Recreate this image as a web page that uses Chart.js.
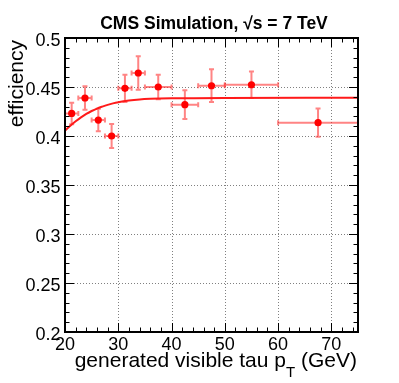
<!DOCTYPE html>
<html>
<head>
<meta charset="utf-8">
<script src="https://cdn.jsdelivr.net/npm/chart.js@4.4.1/dist/chart.umd.min.js"></script>
<style>
  body { margin: 0; background: #fff; }
  canvas { display: block; }
</style>
</head>
<body>
<canvas id="effChart" width="399" height="383"></canvas>
<script>
// measured efficiency per pT bin
const binCenter = [21.25, 23.75, 26.25, 28.75, 31.25, 33.75, 37.5, 42.5, 47.5, 55, 67.5];
const binLow = [20, 22.5, 25, 27.5, 30, 32.5, 35, 40, 45, 50, 60];
const binHigh = [22.5, 25, 27.5, 30, 32.5, 35, 40, 45, 50, 60, 75];
const efficiency = [0.423, 0.4388, 0.4163, 0.400, 0.4486, 0.4643, 0.450, 0.432, 0.4513, 0.4523, 0.4136];
const effError = [0.011, 0.012, 0.0115, 0.0123, 0.014, 0.017, 0.0125, 0.0146, 0.0167, 0.0134, 0.0144];

// fit curve
const fitPt = [20, 21, 22, 23, 24, 25, 26, 27, 28, 29, 30, 32, 34, 36, 40, 50, 75];
const fitEff = [0.4055, 0.4105, 0.415, 0.419, 0.4225, 0.4255, 0.428, 0.430, 0.4318, 0.4333, 0.4345, 0.4362, 0.4373, 0.4379, 0.4385, 0.4389, 0.439];

const xTicks = [20, 30, 40, 50, 60, 70];
const yTicks = [0.2, 0.25, 0.3, 0.35, 0.4, 0.45, 0.5];
const yTickLabels = ['0.2', '0.25', '0.3', '0.35', '0.4', '0.45', '0.5'];

const ctxEl = document.getElementById('effChart');

// grid + error bars below the markers
const backgroundPlugin = {
    id: 'background',
    beforeDatasetsDraw(chart) {
        const {ctx, chartArea: a, scales: {x, y}} = chart;
        ctx.save();
        ctx.strokeStyle = '#808080';
        ctx.lineWidth = 1;
        ctx.setLineDash([1, 2]);
        xTicks.forEach(v => {
            const px = Math.round(x.getPixelForValue(v)) + 0.5;
            ctx.beginPath(); ctx.moveTo(px, a.top); ctx.lineTo(px, a.bottom); ctx.stroke();
        });
        yTicks.forEach(v => {
            const py = Math.round(y.getPixelForValue(v)) + 0.5;
            ctx.beginPath(); ctx.moveTo(a.left, py); ctx.lineTo(a.right, py); ctx.stroke();
        });
        ctx.setLineDash([]);

        // error bars
        ctx.strokeStyle = 'rgba(255, 50, 50, 0.6)';
        ctx.lineWidth = 2;
        binCenter.forEach((c, i) => {
            const px = x.getPixelForValue(c);
            const py = y.getPixelForValue(efficiency[i]);
            const x0 = x.getPixelForValue(binLow[i]);
            const x1 = x.getPixelForValue(binHigh[i]);
            const y0 = y.getPixelForValue(efficiency[i] - effError[i]);
            const y1 = y.getPixelForValue(efficiency[i] + effError[i]);
            ctx.beginPath();
            ctx.moveTo(x0, py); ctx.lineTo(x1, py);
            ctx.moveTo(px, y0); ctx.lineTo(px, y1);
            // end caps
            ctx.moveTo(x0, py - 2.5); ctx.lineTo(x0, py + 2.5);
            ctx.moveTo(x1, py - 2.5); ctx.lineTo(x1, py + 2.5);
            ctx.moveTo(px - 2.5, y0); ctx.lineTo(px + 2.5, y0);
            ctx.moveTo(px - 2.5, y1); ctx.lineTo(px + 2.5, y1);
            ctx.stroke();
        });
        ctx.restore();
    }
};

// frame, ticks and texts
const framePlugin = {
    id: 'frame',
    afterDraw(chart) {
        const {ctx, chartArea: a, scales: {x, y}} = chart;
        ctx.save();
        ctx.strokeStyle = '#000';
        ctx.lineWidth = 1;
        ctx.beginPath();
        for (let v = 20; v <= 75; v += 2) {
            const px = Math.round(x.getPixelForValue(v)) + 0.5;
            const len = (v % 10 === 0) ? 9 : 4.5;
            ctx.moveTo(px, a.bottom); ctx.lineTo(px, a.bottom - len);
            ctx.moveTo(px, a.top); ctx.lineTo(px, a.top + len);
        }
        for (let k = 20; k <= 50; k++) {
            const py = Math.round(y.getPixelForValue(k / 100)) + 0.5;
            const len = (k % 5 === 0) ? 9 : 4.5;
            ctx.moveTo(a.left, py); ctx.lineTo(a.left + len, py);
            ctx.moveTo(a.right, py); ctx.lineTo(a.right - len, py);
        }
        ctx.stroke();

        ctx.lineWidth = 2;
        ctx.strokeRect(a.left, a.top, a.right - a.left, a.bottom - a.top);

        ctx.fillStyle = '#000';
        ctx.font = 'bold 17.5px "Liberation Sans", Arial, sans-serif';
        ctx.textAlign = 'center';
        ctx.textBaseline = 'alphabetic';
        ctx.fillText('CMS Simulation, \u221As = 7 TeV', 214, 29);

        ctx.font = '18px "Liberation Sans", Arial, sans-serif';
        xTicks.forEach(v => {
            ctx.fillText(String(v), x.getPixelForValue(v), 350);
        });
        ctx.textAlign = 'right';
        yTicks.forEach((v, i) => {
            ctx.fillText(yTickLabels[i], 60.5, y.getPixelForValue(v) + 7.5);
        });

        // x title with subscript
        const mainFont = '21px "Liberation Sans", Arial, sans-serif';
        const subFont = '15px "Liberation Sans", Arial, sans-serif';
        const part1 = 'generated visible tau p', sub = 'T', part2 = ' (GeV)';
        ctx.font = mainFont;
        const w1 = ctx.measureText(part1).width, w3 = ctx.measureText(part2).width;
        ctx.font = subFont;
        const w2 = ctx.measureText(sub).width;
        let sx = 357 - (w1 + w2 + w3);
        ctx.textAlign = 'left';
        ctx.font = mainFont;
        ctx.fillText(part1, sx, 367);
        ctx.font = subFont;
        ctx.fillText(sub, sx + w1, 377);
        ctx.font = mainFont;
        ctx.fillText(part2, sx + w1 + w2, 367);

        // y title
        ctx.translate(23, 40);
        ctx.rotate(-Math.PI / 2);
        ctx.textAlign = 'right';
        ctx.fillText('efficiency', 0, 0);
        ctx.restore();
    }
};

new Chart(ctxEl, {
    type: 'scatter',
    data: {
        datasets: [{
            label: 'fit',
            type: 'line',
            data: fitPt.map((v, i) => ({x: v, y: fitEff[i]})),
            borderColor: '#ff1a1a',
            borderWidth: 2,
            pointRadius: 0,
            tension: 0.4,
            cubicInterpolationMode: 'monotone',
            fill: false
        }, {
            label: 'efficiency',
            data: binCenter.map((v, i) => ({x: v, y: efficiency[i]})),
            backgroundColor: '#ff0000',
            borderColor: '#ff0000',
            pointRadius: 3.6,
            pointBorderWidth: 0
        }]
    },
    options: {
        responsive: false,
        animation: false,
        devicePixelRatio: 1,
        layout: {padding: {left: 65, top: 38, right: 41, bottom: 51}},
        scales: {
            x: {type: 'linear', min: 20, max: 75, display: false},
            y: {type: 'linear', min: 0.2, max: 0.5, display: false}
        },
        plugins: {
            legend: {display: false},
            tooltip: {enabled: false}
        }
    },
    plugins: [backgroundPlugin, framePlugin]
});
</script>
</body>
</html>
